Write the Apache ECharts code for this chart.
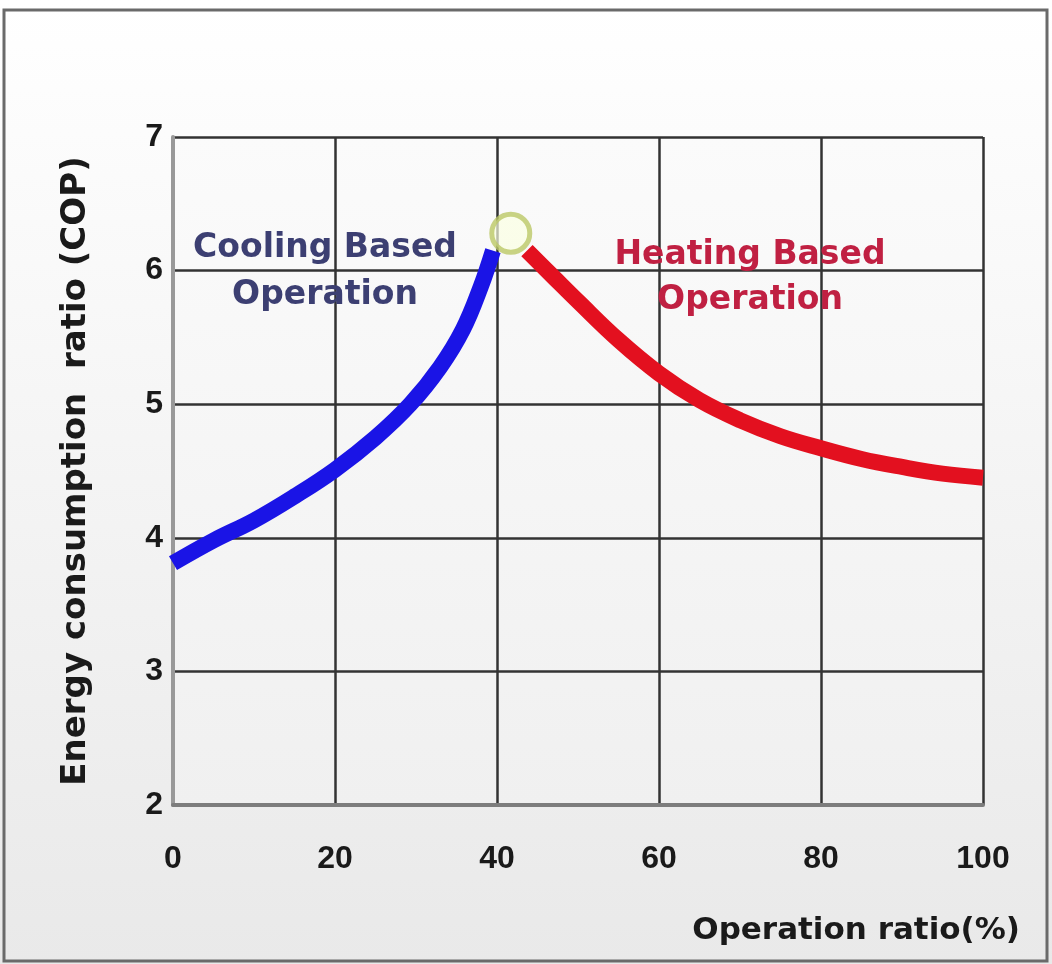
<!DOCTYPE html>
<html>
<head>
<meta charset="utf-8">
<script src="https://cdn.jsdelivr.net/npm/echarts@6/dist/echarts.min.js"></script>
<style>
html,body{margin:0;padding:0;background:#fff;}
#chart{width:1052px;height:964px;}
</style>
</head>
<body>
<div id="chart"></div>
<script>
// Data
const xTicks = [0, 20, 40, 60, 80, 100];
const yTicks = [2, 3, 4, 5, 6, 7];
const coolingX = [0, 5, 10, 15, 20, 25, 29.3, 33, 35.8, 38, 39.5];
const coolingY = [3.81, 3.98, 4.13, 4.31, 4.51, 4.75, 5.00, 5.28, 5.56, 5.88, 6.15];
const heatingX = [43.7, 47, 50, 55, 60, 65, 70, 75, 80, 85, 90, 95, 100];
const heatingY = [6.15, 5.95, 5.77, 5.48, 5.23, 5.03, 4.88, 4.76, 4.67, 4.59, 4.53, 4.48, 4.45];
const peakPoint = [41.7, 6.28];
const coolingLabel = 'Cooling Based\nOperation';
const heatingLabel = 'Heating Based\nOperation';
const xName = 'Operation ratio(%)';
const yName = 'Energy consumption  ratio (COP)';

const chart = echarts.init(document.getElementById('chart'), null, {renderer: 'canvas'});
const sans = "'Liberation Sans',Arial,sans-serif";
const wide = "'DejaVu Sans',Verdana,sans-serif";

const option = {
  animation: false,
  backgroundColor: new echarts.graphic.LinearGradient(0, 0, 0, 1, [
    {offset: 0, color: '#ffffff'}, {offset: 1, color: '#e9e9e9'}
  ]),
  grid: {left: 173, right: 69, top: 137, bottom: 159,
    show: true, borderWidth: 0,
    backgroundColor: new echarts.graphic.LinearGradient(0, 0, 0, 1, [
      {offset: 0, color: '#fbfbfb'}, {offset: 1, color: '#f0f0f0'}
    ])},
  graphic: [
    {type: 'rect', shape: {x: 4, y: 10, width: 1043, height: 951},
      style: {fill: 'none', stroke: '#6a6a6a', lineWidth: 3}, z: 100, silent: true},
    {type: 'text', x: 1020, y: 931, style: {text: xName, font: 'bold 31px ' + wide, fill: '#1a1a1a', align: 'right', verticalAlign: 'middle'}},
    {type: 'text', x: 325, y: 272, style: {text: coolingLabel, font: 'bold 33px ' + wide, fill: '#3c3f72', align: 'center', lineHeight: 47, verticalAlign: 'middle'}, z: 50},
    {type: 'text', x: 750, y: 278, style: {text: heatingLabel, font: 'bold 33px ' + wide, fill: '#c02042', align: 'center', lineHeight: 45, verticalAlign: 'middle'}, z: 50}
  ],
  xAxis: {
    type: 'value', min: 0, max: 100, interval: 20,
    axisLine: {show: true, lineStyle: {color: '#7d7d7d', width: 4}},
    axisTick: {show: false},
    axisLabel: {margin: 38, fontSize: 32, fontWeight: 'bold', fontFamily: sans, color: '#1a1a1a'},
    splitLine: {show: true, lineStyle: {color: '#333333', width: 2.5}}
  },
  yAxis: {
    type: 'value', min: 2, max: 7, interval: 1,
    name: yName, nameLocation: 'middle', nameGap: 80, nameRotate: 90,
    nameTextStyle: {fontSize: 34, fontWeight: 'bold', fontFamily: wide, color: '#1a1a1a'},
    axisLine: {show: true, lineStyle: {color: '#999999', width: 4}},
    axisTick: {show: false},
    axisLabel: {margin: 10, fontSize: 32, fontWeight: 'bold', fontFamily: sans, color: '#1a1a1a'},
    splitLine: {show: true, lineStyle: {color: '#333333', width: 2.5}}
  },
  series: [
    {type: 'line', smooth: 0.4, showSymbol: false, z: 10,
      data: coolingX.map((x, i) => [x, coolingY[i]]),
      lineStyle: {color: '#1a14e6', width: 16}},
    {type: 'line', smooth: 0.4, showSymbol: false, z: 10,
      data: heatingX.map((x, i) => [x, heatingY[i]]),
      lineStyle: {color: '#e3101f', width: 16}},
    {type: 'scatter', z: 12, data: [peakPoint], symbol: 'circle', symbolSize: 38,
      itemStyle: {color: 'rgba(250,255,225,0.85)', borderColor: '#bcc866', borderWidth: 5}}
  ]
};
chart.setOption(option);
</script>
</body>
</html>
